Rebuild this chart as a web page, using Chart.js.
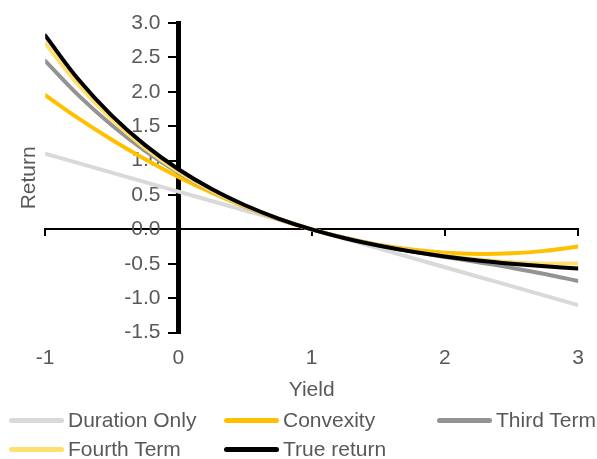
<!DOCTYPE html>
<html>
<head>
<meta charset="utf-8">
<script src="https://cdn.jsdelivr.net/npm/chart.js@4.4.1/dist/chart.umd.min.js"></script>
<style>
  body { margin: 0; background: #fff; }
  #wrap { position: relative; width: 597px; height: 459px; font-family: "Liberation Sans", Arial, sans-serif; }
  .item { position: absolute; height: 28px; display: flex; align-items: center; font-size: 21px; color: #595959; white-space: nowrap; }
  .swatch { width: 55px; height: 5px; border-radius: 3px; margin-right: 4px; }
</style>
</head>
<body>
<div id="wrap">
  <canvas id="myChart" width="597" height="459"></canvas>
  <div id="legend"></div>
</div>
<script>
// yield values along the x axis
const yields = [-1, -0.75, -0.5, -0.25, 0, 0.25, 0.5, 0.75, 1, 1.25, 1.5, 1.75, 2, 2.25, 2.5, 2.75, 3];

const durationOnly = [1.10, 0.963, 0.825, 0.688, 0.55, 0.413, 0.275, 0.138, 0, -0.138, -0.275, -0.413, -0.55, -0.688, -0.825, -0.963, -1.10];
const convexity = [1.95, 1.613, 1.303, 1.020, 0.763, 0.532, 0.328, 0.151, 0, -0.125, -0.222, -0.293, -0.338, -0.356, -0.347, -0.312, -0.25];
const thirdTerm = [2.45, 1.948, 1.514, 1.142, 0.825, 0.558, 0.336, 0.152, 0, -0.126, -0.230, -0.319, -0.400, -0.478, -0.558, -0.647, -0.75];
const fourthTerm = [2.706, 2.098, 1.595, 1.181, 0.841, 0.563, 0.337, 0.152, 0, -0.126, -0.229, -0.314, -0.384, -0.439, -0.477, -0.497, -0.494];
const trueReturn = [2.818, 2.178, 1.654, 1.225, 0.874, 0.586, 0.351, 0.158, 0, -0.129, -0.235, -0.322, -0.393, -0.451, -0.498, -0.537, -0.569];

const seriesNames = ["Duration Only", "Convexity", "Third Term", "Fourth Term", "True return"];
const seriesColors = ["#D9D9D9", "#FFC000", "#939393", "#FFDF70", "#000000"];
const seriesValues = [durationOnly, convexity, thirdTerm, fourthTerm, trueReturn];

const yTicks = [-1.5, -1.0, -0.5, 0.0, 0.5, 1.0, 1.5, 2.0, 2.5, 3.0];

const font = { family: "'Liberation Sans', Arial, sans-serif", size: 21 };
const textColor = "#595959";

const datasets = seriesValues.map((vals, i) => ({
  label: seriesNames[i],
  data: vals.map((v, j) => ({ x: yields[j], y: v })),
  borderColor: seriesColors[i],
  backgroundColor: seriesColors[i],
  borderWidth: 4,
  borderCapStyle: "round",
  pointRadius: 0,
  tension: 0.4,
  fill: false,
  order: seriesNames.length - 1 - i,
}));

const setYTicks = (axis) => {
  axis.ticks = yTicks.map((v) => ({ value: v }));
};

var ctx = document.getElementById("myChart").getContext("2d");
var myChart = new Chart(ctx, {
  type: "line",
  data: { datasets: datasets },
  options: {
    responsive: false,
    animation: false,
    layout: { padding: { left: 10, right: 18, top: 23, bottom: 52 } },
    plugins: {
      legend: { display: false },
      tooltip: { enabled: false },
    },
    scales: {
      x: {
        type: "linear",
        position: "bottom",
        min: -1,
        max: 3,
        ticks: { stepSize: 1, font: font, color: textColor, padding: 13 },
        grid: { display: false, drawTicks: false },
        border: { display: false },
        title: { display: true, text: "Yield", font: font, color: textColor, padding: { top: -6, bottom: 4 } },
      },
      xLine: {
        type: "linear",
        axis: "x",
        position: { y: 0 },
        min: -1,
        max: 3,
        ticks: { display: false, stepSize: 1 },
        grid: { drawOnChartArea: false, tickLength: 6, lineWidth: 2, color: "#000" },
        border: { color: "#000", width: 2 },
      },
      y: {
        type: "linear",
        position: { x: 0 },
        min: -1.5,
        max: 3,
        afterBuildTicks: setYTicks,
        ticks: { display: false },
        grid: { drawOnChartArea: false, tickLength: 8, lineWidth: 2, color: "#000" },
        border: { color: "#000", width: 5 },
      },
      // tick labels sit just left of the y axis line
      yLabels: {
        type: "linear",
        axis: "y",
        position: { x: -0.135 },
        min: -1.5,
        max: 3,
        afterBuildTicks: setYTicks,
        ticks: { font: font, color: textColor, callback: (v) => v.toFixed(1) },
        grid: { display: false, drawTicks: false },
        border: { display: false },
      },
      yTitle: {
        type: "linear",
        axis: "y",
        position: "left",
        min: -1.5,
        max: 3,
        ticks: { display: false },
        grid: { display: false, drawTicks: false },
        border: { display: false },
        title: { display: true, text: "Return", font: font, color: textColor, padding: { top: 7, bottom: 3 } },
      },
    },
  },
});

// legend in three columns, as in the original
const legendPos = [
  [9, 406], [224, 406], [437, 406],
  [9, 435], [224, 435],
];
const legend = document.getElementById("legend");
seriesNames.forEach((name, i) => {
  const item = document.createElement("div");
  item.className = "item";
  item.style.left = legendPos[i][0] + "px";
  item.style.top = legendPos[i][1] + "px";
  item.innerHTML = '<span class="swatch" style="background:' + seriesColors[i] + '"></span>' + name;
  legend.appendChild(item);
});
</script>
</body>
</html>
